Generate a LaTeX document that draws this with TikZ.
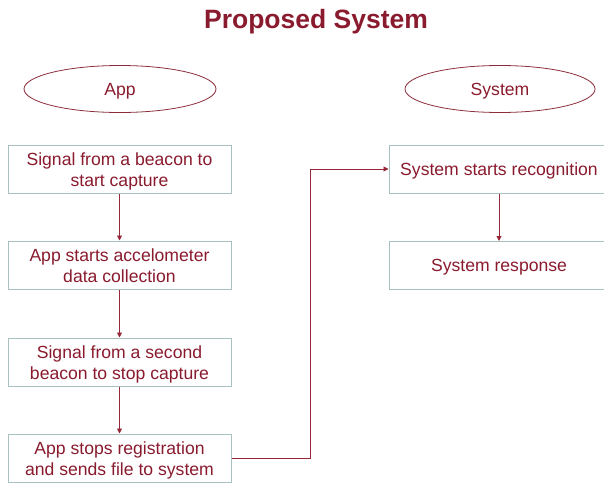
\documentclass[tikz,border=0pt]{standalone}
\usepackage{fontspec}
\setmainfont{Liberation Sans}
\usetikzlibrary{shapes.geometric,arrows.meta}
\definecolor{txtred}{RGB}{138,27,46}
\definecolor{boxline}{RGB}{168,192,192}
\definecolor{elline}{RGB}{140,45,58}
\definecolor{conn}{RGB}{150,40,58}
\tikzset{
  x=1pt, y=-1pt,
  stepbox/.style={draw=boxline, line width=1pt, fill=white, text=txtred,
    minimum height=48pt, inner sep=0pt, align=center,
    font=\fontsize{17.6}{21}\selectfont},
  twoline/.style={text height=34pt, text depth=0pt},
  oneline/.style={text height=12pt, text depth=0pt},
  lbox/.style={stepbox, twoline, minimum width=223pt},
  rbox/.style={stepbox, oneline, minimum width=220pt},
  lane/.style={ellipse, draw=elline, line width=0.8pt, text=txtred,
    inner sep=0pt, oneline, font=\fontsize{17.6}{21}\selectfont},
  flow/.style={draw=conn, line width=0.9pt, -{Triangle[length=5pt,width=5pt]}}
}
\begin{document}
\begin{tikzpicture}
\useasboundingbox (0,0) rectangle (604,482);
\clip (0,0) rectangle (604,482);
\node[text=txtred, font=\fontsize{26.5}{30}\selectfont\bfseries, anchor=base] (title) at (316,28) {Proposed System};
\node[lane, minimum width=192pt, minimum height=47pt] (app) at (120,89) {App};
\node[lane, minimum width=190pt, minimum height=47pt] (sys) at (500,89) {System};
\node[lbox] (b1) at (119.5,169) {Signal from a beacon to\\start capture};
\node[lbox] (b2) at (119.5,265) {App starts accelometer\\data collection};
\node[lbox] (b3) at (119.5,362) {Signal from a second\\beacon to stop capture};
\node[lbox] (b4) at (119.5,458) {App stops registration\\and sends file to system};
\node[rbox] (r1) at (499,169) {System starts recognition};
\node[rbox] (r2) at (499,265.5) {System response};
\coordinate (k) at (310,458);
\draw[flow] (b1) -- (b2);
\draw[flow] (b2) -- (b3);
\draw[flow] (b3) -- (b4);
\draw[flow] (r1) -- (r2);
\draw[flow] (b4.east) -- (k) |- (r1.west);
\end{tikzpicture}
\end{document}
